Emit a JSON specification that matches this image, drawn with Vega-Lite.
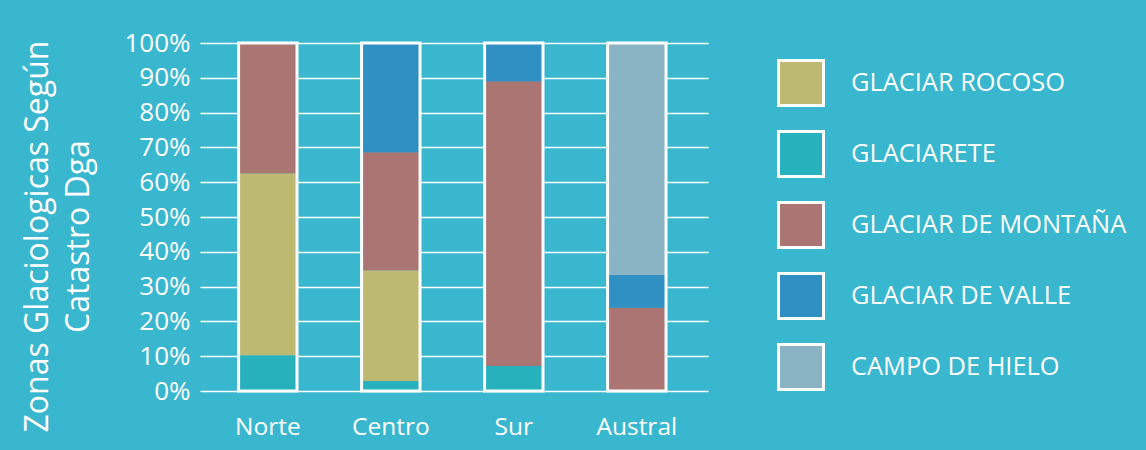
{
  "$schema": "https://vega.github.io/schema/vega-lite/v6.json",
  "width": 508,
  "height": 348,
  "autosize": "none",
  "padding": {"left": 200, "top": 43, "right": 438, "bottom": 59},
  "background": "#38b7cf",
  "config": {"view": {"stroke": null}, "font": "Open Sans", "axis": {"labelOverlap": false}},
  "data": {
    "values": [
      {"zona": "Norte", "tipo": "GLACIARETE", "orden": 1, "value": 0.103},
      {"zona": "Norte", "tipo": "GLACIAR ROCOSO", "orden": 2, "value": 0.523},
      {"zona": "Norte", "tipo": "GLACIAR DE MONTAÑA", "orden": 3, "value": 0.374},
      {"zona": "Centro", "tipo": "GLACIARETE", "orden": 1, "value": 0.029},
      {"zona": "Centro", "tipo": "GLACIAR ROCOSO", "orden": 2, "value": 0.318},
      {"zona": "Centro", "tipo": "GLACIAR DE MONTAÑA", "orden": 3, "value": 0.339},
      {"zona": "Centro", "tipo": "GLACIAR DE VALLE", "orden": 4, "value": 0.314},
      {"zona": "Sur", "tipo": "GLACIARETE", "orden": 1, "value": 0.072},
      {"zona": "Sur", "tipo": "GLACIAR DE MONTAÑA", "orden": 3, "value": 0.818},
      {"zona": "Sur", "tipo": "GLACIAR DE VALLE", "orden": 4, "value": 0.110},
      {"zona": "Austral", "tipo": "GLACIAR DE MONTAÑA", "orden": 3, "value": 0.239},
      {"zona": "Austral", "tipo": "GLACIAR DE VALLE", "orden": 4, "value": 0.094},
      {"zona": "Austral", "tipo": "CAMPO DE HIELO", "orden": 5, "value": 0.667}
    ]
  },
  "encoding": {
    "x": {
      "field": "zona",
      "type": "nominal",
      "sort": ["Norte", "Centro", "Sur", "Austral"],
      "scale": {"paddingInner": 0.525, "paddingOuter": 0.3275, "align": 0.479},
      "axis": {
        "title": null,
        "labelAngle": 0,
        "labelFontSize": 24.5,
        "labelColor": "white",
        "labelPadding": 24,
        "ticks": false,
        "tickSize": 0,
        "domain": false,
        "grid": false
      }
    }
  },
  "layer": [
    {
      "mark": {"type": "bar"},
      "encoding": {
        "y": {
          "field": "value",
          "type": "quantitative",
          "stack": "zero",
          "scale": {"domain": [0, 1]},
          "axis": {
            "format": ".0%",
            "values": [0, 0.1, 0.2, 0.3, 0.4, 0.5, 0.6, 0.7, 0.8, 0.9, 1],
            "labelOverlap": false,
            "labelFontSize": 26,
            "labelColor": "white",
            "labelPadding": 10,
            "ticks": false,
            "tickSize": 0,
            "domain": false,
            "grid": true,
            "gridColor": "white",
            "gridWidth": 1.6,
            "gridOpacity": 1,
            "title": ["Zonas Glaciologicas Según", "Catastro Dga"],
            "titleFontSize": 32,
            "titleFontWeight": "normal",
            "titleColor": "white",
            "titleAngle": -90,
            "titleAlign": "center",
            "titleBaseline": "alphabetic",
            "titleLineHeight": 41,
            "titleX": -153,
            "titleY": 193
          }
        },
        "color": {
          "field": "tipo",
          "type": "nominal",
          "scale": {
            "domain": ["GLACIAR ROCOSO", "GLACIARETE", "GLACIAR DE MONTAÑA", "GLACIAR DE VALLE", "CAMPO DE HIELO"],
            "range": ["#bdb972", "#27b1bd", "#aa7572", "#3090c4", "#8ab3c3"]
          },
          "legend": {
            "title": null,
            "orient": "none",
            "legendX": 577,
            "legendY": 16,
            "padding": 0,
            "symbolType": "square",
            "symbolSize": 2025,
            "symbolStrokeColor": "white",
            "symbolStrokeWidth": 3,
            "symbolOpacity": 1,
            "labelFontSize": 25.4,
            "labelColor": "white",
            "labelOffset": 26,
            "rowPadding": 13,
            "labelLimit": 400
          }
        },
        "order": {"field": "orden", "type": "quantitative"}
      }
    },
    {
      "mark": {"type": "bar", "fill": "transparent", "stroke": "white", "strokeWidth": 3},
      "encoding": {
        "y": {
          "aggregate": "sum",
          "field": "value",
          "type": "quantitative",
          "scale": {"domain": [0, 1]},
          "axis": {
            "format": ".0%",
            "values": [0, 0.1, 0.2, 0.3, 0.4, 0.5, 0.6, 0.7, 0.8, 0.9, 1],
            "labelOverlap": false,
            "labelFontSize": 26,
            "labelColor": "white",
            "labelPadding": 10,
            "ticks": false,
            "tickSize": 0,
            "domain": false,
            "grid": true,
            "gridColor": "white",
            "gridWidth": 1.6,
            "gridOpacity": 1,
            "title": ["Zonas Glaciologicas Según", "Catastro Dga"],
            "titleFontSize": 32,
            "titleFontWeight": "normal",
            "titleColor": "white",
            "titleAngle": -90,
            "titleAlign": "center",
            "titleBaseline": "alphabetic",
            "titleLineHeight": 41,
            "titleX": -153,
            "titleY": 193
          }
        }
      }
    }
  ]
}
